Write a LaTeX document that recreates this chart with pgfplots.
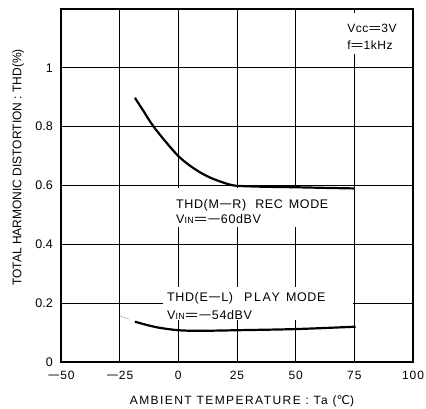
\documentclass[border=0pt]{standalone}
\usepackage{pgfplots}
\pgfplotsset{compat=1.18}
\usepackage{fontspec}
\setmainfont{Liberation Sans}
\newfontfamily\dejavu{DejaVu Sans}
\newfontfamily\ylab[FakeStretch=0.96]{Liberation Sans}
\newcommand{\sub}[1]{{\fontsize{9}{9}\selectfont #1}}
\newcommand{\mn}{\scalebox{1.85}[1]{−}}
\newcommand{\eq}{\scalebox{1.85}[1]{=}}
\newcommand{\lab}{\fontsize{12.5}{14}\selectfont\addfontfeatures{LetterSpace=5}}
\begin{document}
\begin{tikzpicture}
\path[use as bounding box] (-61pt,-47pt) rectangle (365pt,362pt);
\begin{axis}[
 at={(0,0)}, anchor=south west,
 scale only axis, width=352pt, height=353pt,
 xmin=-50, xmax=100, ymin=0, ymax=1.2,
 xtick={-50,-25,0,25,50,75,100},
 xticklabels={\mn50,\mn25,0,25,50,75,100},
 ytick={0,0.2,0.4,0.6,0.8,1},
 yticklabels={0,0.2,0.4,0.6,0.8,1},
 grid=major, major grid style={black, line width=0.7pt},
 major tick length=0pt,
 axis line style={line width=1.3pt},
 yticklabel style={font=\fontsize{12.5}{14}\selectfont, anchor=east, inner sep=0pt, xshift=-8pt},
 xticklabel style={font=\fontsize{12}{14}\selectfont\addfontfeatures{LetterSpace=8}, anchor=center, yshift=-13pt},
 xlabel={AMBIENT TEMPERATURE : Ta ({\dejavu ℃})},
 ylabel={TOTAL HARMONIC DISTORTION : THD(\%)},
 x label style={font=\fontsize{12}{14}\selectfont\addfontfeatures{LetterSpace=12}, at={(axis description cs:0.514,-0.1218)}, anchor=base},
 y label style={font=\fontsize{12.5}{14}\ylab, at={(axis description cs:-0.122,0.551)}, anchor=center},
 clip=false,
]
% white masks behind the labels
\fill[white] (axis cs:-2.7,0.593) rectangle (axis cs:73.1,0.458);
\fill[white] (axis cs:-6.5,0.254) rectangle (axis cs:74.4,0.142);
\fill[white] (axis cs:70.2,1.188) rectangle (axis cs:95.8,1.047);
% REC mode
\addplot[black, line width=2.2pt, smooth] coordinates {
 (-18.5,0.898) (-15,0.855) (-10.8,0.803) (-5,0.745) (0,0.700) (4.5,0.670)
 (9.2,0.645) (13.5,0.627) (17.7,0.614) (21.5,0.604) (25,0.599) (35,0.596)
 (50,0.594) (62,0.592) (75,0.590)};
% PLAY mode
\addplot[black!60, densely dotted, line width=0.6pt] coordinates {(-25,0.157) (-21,0.145)};
\addplot[black, line width=2.2pt, smooth] coordinates {
 (-18.5,0.137) (-13,0.125) (-7.8,0.116) (0,0.108) (9,0.106) (25,0.108)
 (50.4,0.112) (75.5,0.120)};
% labels
\node[anchor=base west, inner sep=0pt, font=\lab] at (axis cs:-1.0,0.522) {THD(M\mn R)\hspace{9pt}REC\hspace{6pt}MODE};
\node[anchor=base west, inner sep=0pt, font=\lab] at (axis cs:-1.0,0.472) {V\sub{IN}\eq\mn60dBV};
\node[anchor=base west, inner sep=0pt, font=\lab] at (axis cs:-4.84,0.206) {THD(E\mn L)\hspace{11pt}{\addfontfeatures{LetterSpace=13}PLAY}\hspace{6pt}MODE};
\node[anchor=base west, inner sep=0pt, font=\lab] at (axis cs:-4.84,0.145) {V\sub{IN}\eq\mn54dBV};
\node[anchor=base west, inner sep=0pt, font=\fontsize{12}{13}\selectfont\addfontfeatures{LetterSpace=5}] at (axis cs:71.9,1.120) {Vcc\eq3V};
\node[anchor=base west, inner sep=0pt, font=\fontsize{12}{13}\selectfont\addfontfeatures{LetterSpace=5}] at (axis cs:71.9,1.061) {f\eq1kHz};
\end{axis}
\end{tikzpicture}
\end{document}
